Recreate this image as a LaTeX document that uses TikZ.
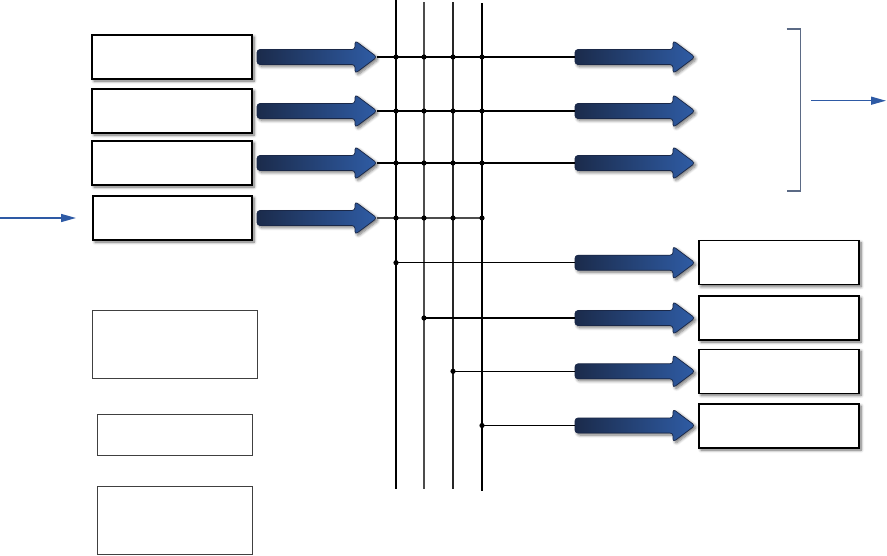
\documentclass[tikz,border=0pt]{standalone}
\usetikzlibrary{arrows.meta,shadows.blur}
\definecolor{arrdark}{HTML}{1B2B4B}
\definecolor{arrblue}{HTML}{2F5CA5}
\definecolor{arredge}{HTML}{1A2848}
\definecolor{thinblue}{HTML}{2E5AA5}
\definecolor{slate}{HTML}{5B6A85}
\tikzset{
  x=1pt,y=-1pt,
  shadowbox/.style={draw=black,line width=1.2pt,fill=white,inner sep=0pt,
     blur shadow={shadow xshift=2pt,shadow yshift=-2pt,shadow blur radius=3pt,shadow blur steps=6,shadow opacity=60}},
  plainbox/.style={draw=black!75,line width=1pt,fill=white,inner sep=0pt},
  fatarrow/.style={left color=arrdark,right color=arrblue,draw=arredge,line width=0.7pt,rounded corners=3pt,
     blur shadow={shadow xshift=2pt,shadow yshift=-2pt,shadow blur radius=3pt,shadow blur steps=6,shadow opacity=55}},
  bus/.style={line width=1.2pt,draw=black},
  wire/.style={line width=1.2pt,draw=black},
  jdot/.style={fill=black},
  thinarrow/.style={draw=thinblue,line width=1.4pt,-{Triangle[length=15pt,width=8pt]}},
}
\newcommand\fatarr[3]{%
  \coordinate (#1t) at (#2,#3);
  \coordinate (#1h) at (#2+120,#3);
  \shade[fatarrow] (#2,#3-7.5) -- (#2+98,#3-7.5) -- (#2+98,#3-16.5) -- (#2+120,#3)
     -- (#2+98,#3+16.5) -- (#2+98,#3+7.5) -- (#2,#3+7.5) -- cycle;}
\begin{document}
\begin{tikzpicture}
\useasboundingbox (0,0) rectangle (887,555);
% left boxes
\node[shadowbox,minimum width=160pt,minimum height=44pt] (L1) at (172,57) {};
\node[shadowbox,minimum width=160pt,minimum height=44pt] (L2) at (172,111) {};
\node[shadowbox,minimum width=160pt,minimum height=44pt] (L3) at (172,163) {};
\node[shadowbox,minimum width=159pt,minimum height=44pt] (L4) at (172.5,218) {};
% lower left plain boxes
\node[plainbox,minimum width=165pt,minimum height=68pt] (A) at (174.8,344) {};
\node[plainbox,minimum width=155.4pt,minimum height=41.3pt] (B) at (175,434.7) {};
\node[plainbox,minimum width=155.4pt,minimum height=68pt] (C) at (175,520) {};
% right boxes
\node[shadowbox,minimum width=160pt,minimum height=44pt] (R1) at (779,262.7) {};
\node[shadowbox,minimum width=160pt,minimum height=44pt] (R2) at (779,318) {};
\node[shadowbox,minimum width=160pt,minimum height=44pt] (R3) at (779,371.3) {};
\node[shadowbox,minimum width=160pt,minimum height=44pt] (R4) at (779,426) {};
% buses
\coordinate (b1top) at (396,0);   \coordinate (b1bot) at (396,489);
\coordinate (b2top) at (424,2);   \coordinate (b2bot) at (424,489);
\coordinate (b3top) at (453,2);   \coordinate (b3bot) at (453,489);
\coordinate (b4top) at (482,3);   \coordinate (b4bot) at (482,491);
\draw[bus] (b1top) -- (b1bot);
\draw[bus,draw=black!70] (b2top) -- (b2bot);
\draw[bus,draw=black!85] (b3top) -- (b3bot);
\draw[bus] (b4top) -- (b4bot);
% left fat arrows
\fatarr{la1}{257}{57}
\fatarr{la2}{257}{111}
\fatarr{la3}{257}{163}
\fatarr{la4}{257}{218}
% right fat arrows
\fatarr{ra1}{575}{57}
\fatarr{ra2}{575}{111}
\fatarr{ra3}{575}{163}
\fatarr{rb1}{575}{262.7}
\fatarr{rb2}{575}{318}
\fatarr{rb3}{575}{371.3}
\fatarr{rb4}{575}{425.5}
% wires rows 1-3
\draw[wire] (la1h) -- (ra1t);
\draw[wire] (la2h) -- (ra2t);
\draw[wire] (la3h) -- (ra3t);
\coordinate (row4end) at (482,218);
\draw[wire,draw=black!70] (la4h) -- (row4end);
\foreach \yy in {57,111,163,218}{
  \foreach \xx in {396,424,453,482}{
    \fill[jdot] (\xx,\yy) circle (2.6pt);
  }
}
% lower wires
\coordinate (t1) at (396,262.7); \coordinate (t2) at (424,318);
\coordinate (t3) at (453,371.3); \coordinate (t4) at (482,425.5);
\draw[wire] (t1) -- (rb1t); \fill[jdot] (t1) circle (2.6pt);
\draw[wire] (t2) -- (rb2t); \fill[jdot] (t2) circle (2.6pt);
\draw[wire] (t3) -- (rb3t); \fill[jdot] (t3) circle (2.6pt);
\draw[wire] (t4) -- (rb4t); \fill[jdot] (t4) circle (2.6pt);
% input arrow
\coordinate (inS) at (0,218); \coordinate (inE) at (76,218);
\draw[thinarrow] (inS) -- (inE);
% bracket
\coordinate (brA) at (786.7,29); \coordinate (brB) at (800.7,29);
\coordinate (brC) at (800.7,191); \coordinate (brD) at (786.7,191);
\draw[slate,line width=1.3pt] (brA) -- (brB) -- (brC) -- (brD);
% output arrow
\coordinate (outS) at (811,100.7); \coordinate (outE) at (886,100.7);
\draw[thinarrow] (outS) -- (outE);
\end{tikzpicture}
\end{document}
